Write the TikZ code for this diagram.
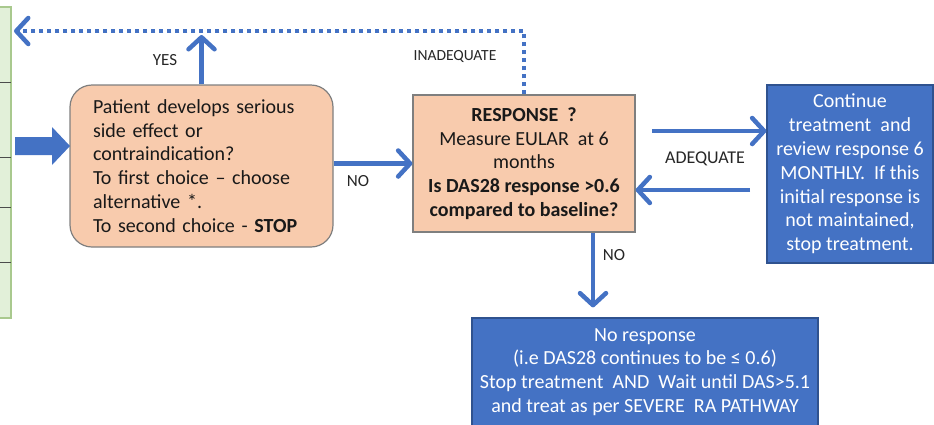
\documentclass[tikz,border=0pt]{standalone}
\usepackage{fontspec}
\setmainfont{Carlito}
\usetikzlibrary{arrows.meta}
\definecolor{peach}{HTML}{F8CBAD}
\definecolor{mblue}{HTML}{4472C4}
\definecolor{dblue}{HTML}{2F528F}
\definecolor{lgreen}{HTML}{E2F0D9}
\definecolor{gborder}{HTML}{A9C98E}
\definecolor{pborder}{HTML}{7F7F7F}
\begin{document}
\begin{tikzpicture}[x=1pt,y=-1pt,
  txt/.style={font=\fontsize{20}{23.8}\selectfont},
  peachbox/.style={draw=pborder, fill=peach, line width=1.2pt, txt, inner sep=0pt, text=black!90},
  bluebox/.style={draw=dblue, fill=mblue, text=white, line width=1.2pt, txt, inner sep=0pt, align=center},
  barb/.tip={Straight Barb[length=12pt,width=26pt,line width=4.5pt,round]},
  arr/.style={draw=mblue, line width=4.5pt, -barb},
  dotline/.style={draw=mblue, line width=4pt, dash pattern=on 4pt off 4pt, -barb},
  lbl/.style={font=\fontsize{17}{20}\selectfont, text=black!85, inner sep=0pt}
]
\useasboundingbox (0,0) rectangle (934,424);
% left panel
\draw[draw=gborder, fill=lgreen, line width=1.2pt] (-2,7) rectangle (11,318);
\foreach \yy in {82,157,207,262} \draw[black!70, line width=1pt] (-2,\yy) -- (11,\yy);
% boxes
\node[peachbox, rounded corners=22pt, minimum width=263pt, minimum height=162pt, text width=217pt, align=left] (L) at (201.5,166)
 {Patient develops serious\\ side effect or\\ contraindication?\\ To first choice -- choose\\ alternative *.\\ To second choice - \textbf{STOP}};
\node[peachbox, minimum width=222pt, minimum height=137pt, align=center] (M) at (524,163.5)
 {\textbf{RESPONSE ~?}\\ Measure EULAR~ at 6\\ months\\ \textbf{Is DAS28 response >0.6}\\ \textbf{compared to baseline?}};
\node[bluebox, minimum width=166pt, minimum height=178pt] (R) at (850,174)
 {Continue\\ treatment~ and\\ review response 6\\ MONTHLY.~ If this\\ initial response is\\ not maintained,\\ stop treatment.};
\node[bluebox, minimum width=346pt, minimum height=108pt] (B) at (645,372)
 {No response\\ (i.e DAS28 continues to be ≤ 0.6)\\ Stop treatment~ AND~ Wait until DAS>5.1\\ and treat as per SEVERE~ RA PATHWAY};
% block arrow
\fill[mblue] (15,137) -- (52,137) -- (52,127) -- (70,146) -- (52,165) -- (52,155) -- (15,155) -- cycle;
% connectors
\coordinate (dotend) at (14,31);
\coordinate (yestop) at (200,35);
\coordinate (a1) at (652,131);
\coordinate (a2) at (750,190);
\coordinate (n2) at (593,0);
\draw[dotline] (M.north) -- (M.north |- dotend) -- (dotend);
\draw[arr] (L.north) -- (L.north |- yestop);
\draw[arr] (L.east |- M.west) -- (M.west);
\draw[arr] (a1) -- (R.west |- a1);
\draw[arr] (a2) -- (M.east |- a2);
\draw[arr, shorten >=10pt] (M.south -| n2) -- (B.north -| n2);
% labels
\node[lbl] (yes) at (165,60) {YES};
\node[lbl, font=\fontsize{15.5}{18}\selectfont] (inad) at (455,56) {INADEQUATE};
\node[lbl] (no1) at (358,181) {NO};
\node[lbl, font=\fontsize{18}{20}\selectfont] (adeq) at (705,159) {ADEQUATE};
\node[lbl] (no2) at (614,255) {NO};
\end{tikzpicture}
\end{document}
